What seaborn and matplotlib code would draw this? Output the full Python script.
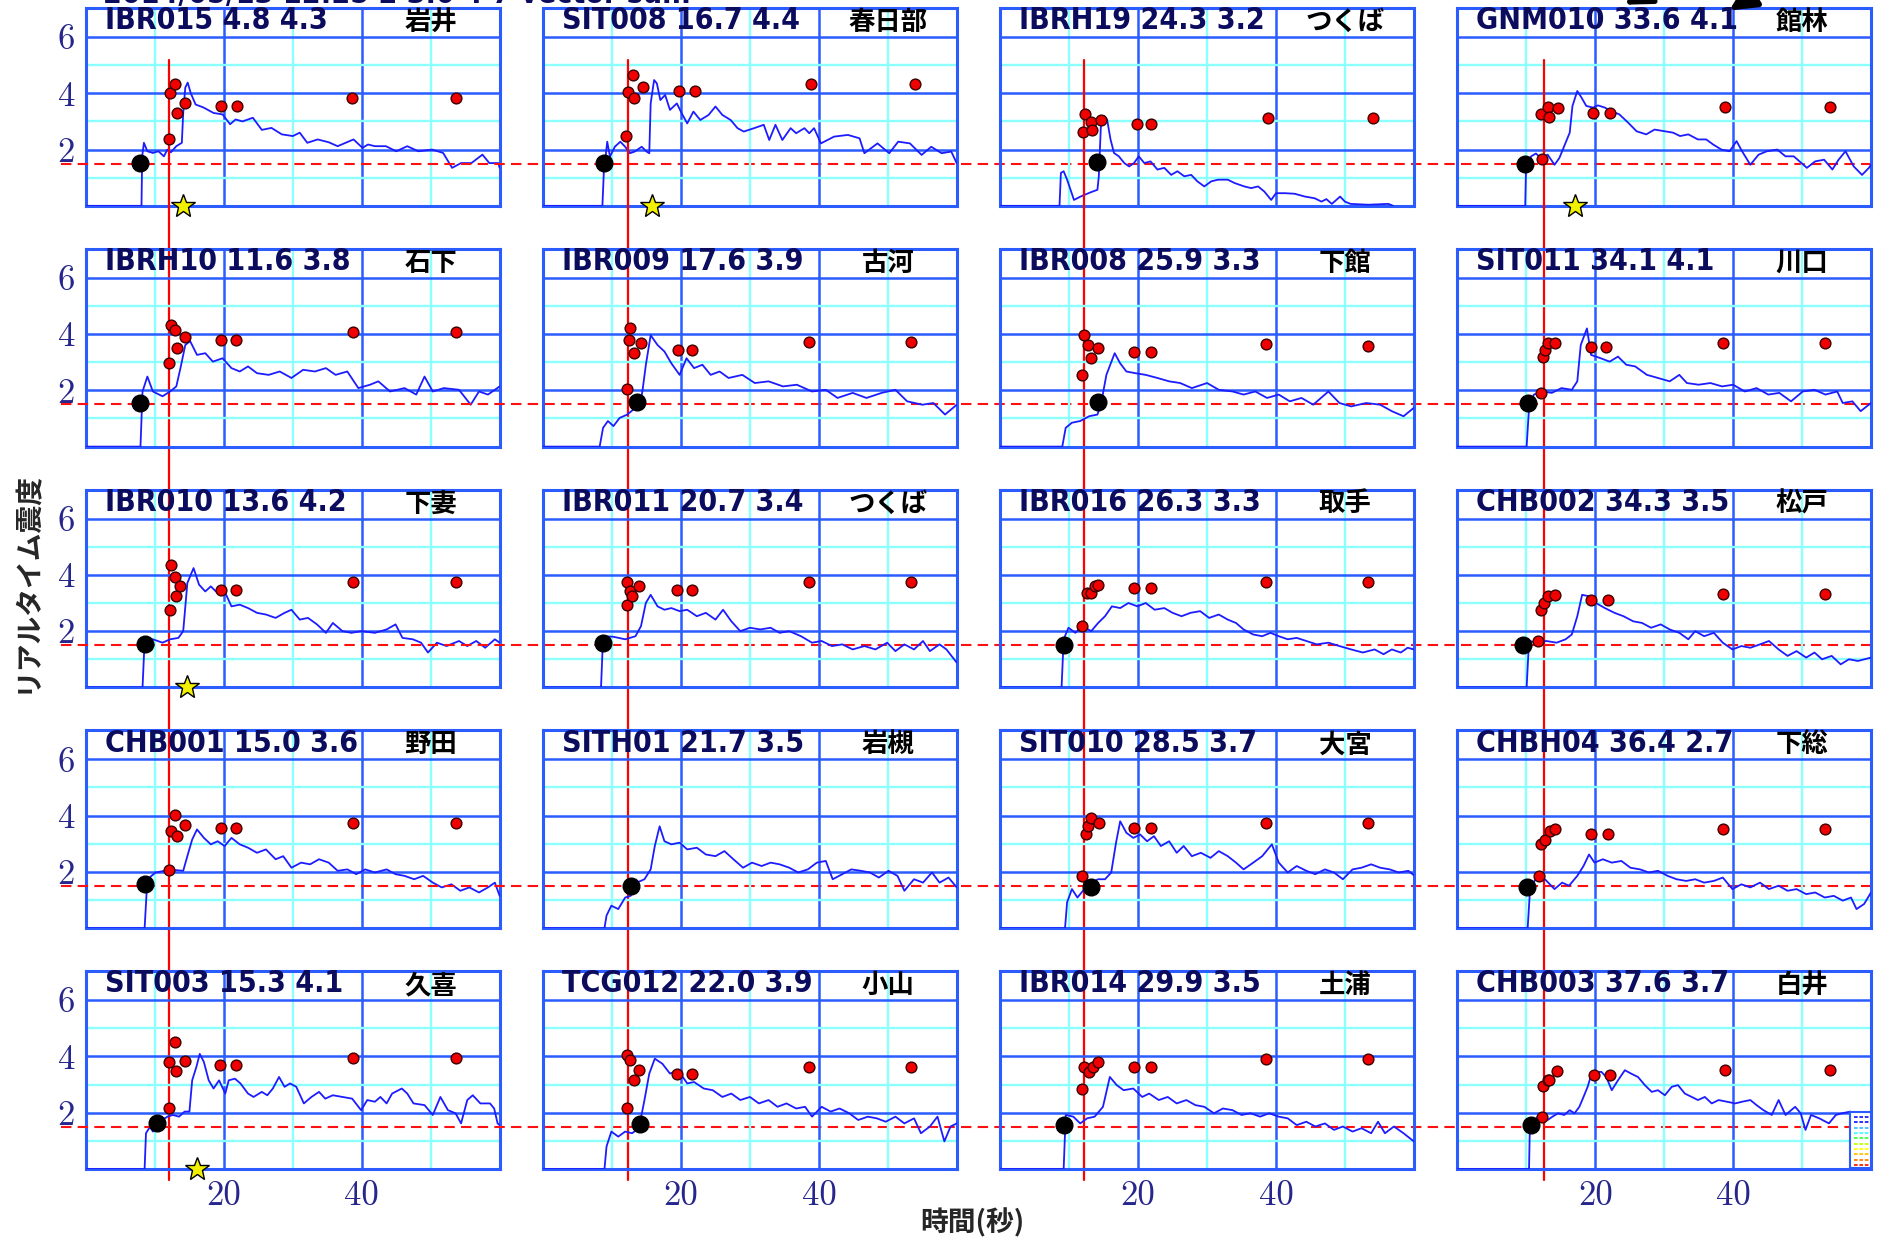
import matplotlib
matplotlib.use("Agg")
import matplotlib.pyplot as plt
from matplotlib import font_manager
from matplotlib.patches import Rectangle, FancyArrowPatch
import pandas as pd
import seaborn as sns

# station header info (row-major order)
codes = ['IBR015', 'SIT008', 'IBRH19', 'GNM010',
         'IBRH10', 'IBR009', 'IBR008', 'SIT011',
         'IBR010', 'IBR011', 'IBR016', 'CHB002',
         'CHB001', 'SITH01', 'SIT010', 'CHBH04',
         'SIT003', 'TCG012', 'IBR014', 'CHB003']
dist = [4.8, 16.7, 24.3, 33.6, 11.6, 17.6, 25.9, 34.1, 13.6, 20.7,
        26.3, 34.3, 15.0, 21.7, 28.5, 36.4, 15.3, 22.0, 29.9, 37.6]
mag = [4.3, 4.4, 3.2, 4.1, 3.8, 3.9, 3.3, 4.1, 4.2, 3.4,
       3.3, 3.5, 3.6, 3.5, 3.7, 2.7, 4.1, 3.9, 3.5, 3.7]
names = ['岩井', '春日部', 'つくば', '館林',
         '石下', '古河', '下館', '川口',
         '下妻', 'つくば', '取手', '松戸',
         '野田', '岩槻', '大宮', '下総',
         '久喜', '小山', '土浦', '白井']

# P arrival (black dot)
p_time = [7.9, 8.9, 14.1, 9.85, 7.9, 13.6, 14.2, 10.2, 8.5, 8.7,
          9.2, 9.5, 8.5, 12.7, 13.2, 10.05, 10.3, 14.1, 9.2, 10.7]
p_level = [1.52, 1.54, 1.55, 1.5, 1.55, 1.6, 1.6, 1.55, 1.53, 1.58,
           1.5, 1.5, 1.58, 1.5, 1.48, 1.45, 1.65, 1.6, 1.56, 1.56]

# yellow stars
star_panel = [0, 1, 3, 8, 16]
star_time = [14.1, 15.8, 17.0, 14.7, 16.1]

# red reference lines
col_line_t = [12.0, 12.3, 12.2, 12.5]
threshold = 1.5

# realtime intensity traces (time s, intensity)
IBR015_trace = [(0, 0), (8.05, 0), (8.15, 1.76), (8.4, 2.24), (8.9, 1.94), (9.7, 1.88), (10.5, 1.94),
                (11.3, 1.76), (11.8, 2.0), (12.3, 1.9), (13.1, 2.12), (13.9, 2.24), (14.1, 3.3), (14.4, 4.2),
                (14.75, 4.38), (15.2, 4.0), (15.9, 3.6), (17.0, 3.5), (18.5, 3.3), (19.8, 3.25), (20.9, 2.9),
                (21.7, 3.07), (22.7, 3.0), (24.2, 3.13), (25.5, 2.7), (26.9, 2.77), (28.4, 2.54), (30.0, 2.48),
                (31.0, 2.6), (32.1, 2.24), (33.6, 2.36), (35.2, 2.26), (36.5, 2.12), (38.8, 2.36), (40.1, 2.06),
                (40.9, 2.18), (41.9, 2.12), (43.5, 2.12), (45.0, 1.94), (46.6, 2.12), (48.2, 1.94), (50.2, 2.0),
                (51.8, 1.88), (53.1, 1.35), (54.4, 1.52), (55.9, 1.52), (57.5, 1.82), (58.5, 1.52), (59.8, 1.52),
                (60, 1.35)]
SIT008_trace = [(0, 0), (8.6, 0), (8.8, 1.16), (9.3, 2.28), (9.7, 1.75), (10.4, 2.1), (11.2, 2.28), (11.9, 2.1),
                (12.6, 1.87), (13.3, 1.93), (14.3, 2.1), (15.0, 1.93), (15.4, 1.87), (15.6, 3.64), (16.1, 4.47),
                (16.5, 4.35), (17.0, 3.76), (17.7, 3.94), (18.4, 3.41), (19.4, 3.64), (20.1, 3.29), (20.9, 2.93),
                (21.8, 3.35), (22.8, 3.05), (24.0, 3.23), (25.0, 3.53), (26.0, 3.23), (27.2, 3.05), (28.2, 2.76),
                (29.1, 2.64), (30.6, 2.76), (32.0, 2.88), (32.8, 2.34), (33.7, 2.88), (34.7, 2.34), (35.9, 2.76),
                (36.7, 2.58), (37.9, 2.76), (38.6, 2.58), (39.3, 2.76), (40.3, 2.22), (42.2, 2.46), (44.2, 2.52),
                (45.9, 2.4), (46.6, 1.87), (48.5, 2.22), (50.2, 1.87), (51.5, 2.28), (53.2, 2.22), (54.9, 1.81),
                (56.3, 2.1), (57.8, 1.87), (59.2, 1.93), (60, 1.51)]
IBRH19_trace = [(0, 0), (8.6, 0), (8.8, 1.17), (9.2, 1.23), (9.7, 0.93), (10.7, 0.21), (11.65, 0.33), (13.1, 0.48),
                (14.1, 0.57), (14.3, 1.05), (14.6, 2.83), (15.1, 3.19), (15.5, 3.07), (16.0, 2.36), (16.5, 1.88),
                (17.2, 1.76), (18.0, 1.52), (18.7, 1.4), (19.4, 1.52), (20.1, 1.76), (20.9, 1.52), (21.8, 1.58),
                (22.8, 1.29), (23.8, 1.35), (24.8, 1.1), (25.7, 1.23), (26.7, 1.05), (27.7, 1.1), (28.6, 0.87),
                (29.6, 0.69), (30.6, 0.87), (31.6, 0.93), (33.0, 0.93), (34.0, 0.81), (35.4, 0.69), (36.4, 0.63),
                (37.4, 0.69), (38.3, 0.51), (39.3, 0.21), (40.0, 0.45), (41.3, 0.45), (42.7, 0.43), (44.2, 0.33),
                (45.6, 0.27), (46.6, 0.15), (47.3, 0.24), (48.1, 0.07), (49.3, 0.33), (50.0, 0.15), (50.8, 0.07),
                (53.4, 0.04), (56.3, 0.07), (57.0, 0)]
GNM010_trace = [(0, 0), (9.85, 0), (9.95, 1.17), (10.7, 1.76), (11.4, 1.86), (12.1, 1.7), (13.1, 1.82), (14.1, 1.46),
                (14.8, 1.7), (15.5, 2.12), (16.3, 2.6), (16.7, 3.55), (17.4, 4.08), (18.0, 3.85), (18.7, 3.55),
                (19.7, 3.49), (20.4, 3.57), (21.4, 3.49), (22.3, 3.37), (23.5, 3.25), (24.8, 2.95), (26.0, 2.65),
                (27.4, 2.54), (28.6, 2.71), (30.1, 2.65), (31.3, 2.6), (32.3, 2.48), (33.5, 2.54), (34.9, 2.36),
                (36.1, 2.36), (37.1, 2.18), (38.3, 2.0), (39.5, 1.94), (40.5, 2.3), (41.3, 1.94), (42.5, 1.46),
                (43.7, 1.82), (44.9, 1.94), (46.4, 2.0), (47.6, 1.76), (48.8, 1.76), (50.7, 1.35), (51.9, 1.58),
                (53.2, 1.64), (54.4, 1.29), (55.3, 1.64), (56.3, 1.94), (57.5, 1.4), (58.7, 1.1), (59.7, 1.35),
                (60, 1.46)]
IBRH10_trace = [(0, 0), (7.9, 0), (8.2, 1.96), (8.9, 2.49), (9.7, 1.96), (11.1, 1.79), (12.2, 1.96), (13.1, 2.14),
                (13.7, 2.79), (14.4, 3.61), (15.1, 3.75), (16.1, 3.26), (17.3, 3.32), (18.4, 3.02), (19.8, 3.14),
                (21.1, 2.79), (22.3, 2.67), (23.5, 2.85), (24.8, 2.61), (26.5, 2.55), (28.1, 2.67), (29.8, 2.44),
                (31.5, 2.73), (33.2, 2.67), (34.8, 2.79), (36.2, 2.55), (37.9, 2.67), (39.5, 2.08), (41.2, 2.2),
                (42.4, 2.32), (44.1, 1.96), (46.2, 2.08), (47.9, 1.85), (49.1, 2.49), (50.3, 1.96), (51.9, 2.08),
                (54.1, 2.02), (55.8, 1.49), (57.0, 1.96), (58.3, 1.85), (60, 2.14)]
IBR009_trace = [(0, 0), (8.2, 0), (8.7, 0.67), (9.4, 0.91), (10.2, 0.73), (11.1, 1.02), (12.2, 1.14), (13.1, 1.32),
                (13.9, 1.38), (14.4, 1.96), (14.9, 2.9), (15.6, 3.96), (16.6, 3.61), (17.6, 3.38), (18.6, 2.96),
                (19.8, 2.55), (20.8, 3.14), (21.9, 2.79), (23.1, 2.91), (24.3, 2.55), (25.6, 2.67), (26.9, 2.44),
                (28.9, 2.55), (30.7, 2.26), (32.7, 2.32), (34.8, 2.14), (36.8, 2.2), (39.0, 1.96), (41.0, 2.02),
                (42.7, 1.73), (44.9, 1.91), (46.9, 1.73), (49.1, 1.91), (51.1, 2.02), (52.8, 1.61), (55.0, 1.49),
                (56.6, 1.55), (58.3, 1.14), (60, 1.49)]
IBR008_trace = [(0, 0), (9.0, 0), (9.5, 0.67), (10.4, 0.85), (11.6, 0.91), (12.9, 1.08), (14.1, 1.14), (14.6, 1.49),
                (15.4, 2.55), (16.6, 3.32), (17.4, 2.96), (18.3, 2.67), (19.6, 2.61), (21.1, 2.55), (22.8, 2.44),
                (24.5, 2.32), (26.1, 2.26), (27.8, 2.08), (30.0, 2.26), (31.7, 2.02), (33.7, 1.96), (35.3, 1.85),
                (37.0, 1.96), (38.7, 1.73), (40.4, 1.85), (42.0, 1.61), (43.7, 1.73), (45.4, 1.49), (47.6, 1.96),
                (49.2, 1.55), (50.9, 1.43), (53.1, 1.55), (55.1, 1.49), (56.8, 1.26), (58.5, 1.08), (60, 1.38)]
SIT011_trace = [(0, 0), (10.05, 0), (10.4, 1.38), (11.1, 1.85), (12.4, 1.96), (13.7, 1.91), (15.1, 2.08), (16.6, 2.02),
                (17.4, 2.32), (17.9, 3.61), (18.8, 4.2), (19.4, 3.26), (20.8, 3.14), (22.1, 3.02), (23.3, 3.2),
                (24.5, 2.91), (25.8, 2.85), (27.5, 2.55), (29.1, 2.44), (30.8, 2.32), (32.2, 2.55), (33.3, 2.26),
                (35.0, 2.2), (36.7, 2.26), (38.4, 2.14), (40.0, 2.2), (41.7, 1.96), (43.4, 2.08), (45.1, 1.85),
                (46.7, 1.91), (48.4, 1.61), (50.1, 1.96), (51.8, 2.02), (53.4, 1.85), (55.1, 1.96), (55.9, 1.55),
                (57.3, 1.61), (58.5, 1.26), (60, 1.55)]
IBR010_trace = [(0, 0), (8.2, 0), (8.5, 1.65), (9.7, 1.71), (11.1, 1.59), (12.2, 1.71), (13.4, 1.76), (14.1, 2.0),
                (14.7, 3.71), (15.6, 4.24), (16.4, 3.65), (17.3, 3.41), (18.1, 3.59), (19.1, 3.35), (20.1, 3.41),
                (21.1, 2.88), (22.3, 2.94), (23.5, 2.82), (24.8, 2.65), (26.1, 2.59), (27.5, 2.47), (28.8, 2.65),
                (29.8, 2.76), (31.0, 2.41), (32.2, 2.47), (33.5, 2.24), (34.8, 1.94), (35.8, 2.29), (37.2, 2.0),
                (38.5, 1.94), (39.9, 2.0), (41.9, 1.94), (43.6, 2.06), (44.9, 2.24), (45.9, 1.76), (47.4, 1.71),
                (48.6, 1.59), (49.6, 1.24), (50.9, 1.59), (52.3, 1.47), (54.1, 1.65), (55.3, 1.47), (56.6, 1.65),
                (57.9, 1.41), (59.3, 1.71), (60, 1.59)]
IBR011_trace = [(0, 0), (8.4, 0), (8.7, 1.82), (10.2, 1.8), (11.9, 1.71), (13.4, 1.82), (14.2, 2.18), (14.9, 3.0),
                (15.6, 3.29), (16.6, 2.88), (17.6, 2.76), (18.6, 2.82), (19.8, 2.71), (20.9, 2.76), (22.3, 2.53),
                (23.6, 2.65), (25.0, 2.41), (26.1, 2.76), (27.3, 2.35), (28.6, 2.0), (30.0, 2.12), (31.5, 2.06),
                (33.0, 2.12), (34.3, 1.94), (35.7, 2.0), (37.4, 1.82), (39.0, 1.59), (40.4, 1.65), (41.9, 1.47),
                (43.4, 1.53), (44.9, 1.35), (46.6, 1.47), (48.2, 1.35), (49.9, 1.59), (51.1, 1.29), (52.4, 1.53),
                (53.8, 1.35), (55.1, 1.65), (56.1, 1.29), (57.5, 1.53), (58.5, 1.35), (60, 0.88)]
IBR016_trace = [(0, 0), (8.9, 0), (9.2, 1.71), (9.9, 2.12), (10.9, 1.94), (11.9, 2.18), (13.2, 2.0), (14.2, 2.29),
                (15.2, 2.53), (16.2, 2.88), (17.4, 2.82), (18.6, 3.0), (19.9, 2.88), (21.1, 3.0), (22.4, 2.76),
                (23.8, 2.82), (25.0, 2.65), (26.3, 2.53), (27.6, 2.65), (29.0, 2.71), (30.3, 2.47), (31.7, 2.59),
                (33.0, 2.41), (34.2, 2.29), (35.3, 2.06), (36.7, 1.88), (38.0, 1.82), (39.2, 1.94), (40.4, 1.82),
                (41.7, 1.71), (43.0, 1.76), (44.4, 1.65), (45.9, 1.53), (47.6, 1.59), (49.2, 1.47), (50.9, 1.35),
                (52.6, 1.24), (54.3, 1.35), (55.6, 1.18), (56.8, 1.35), (58.1, 1.24), (59.1, 1.41), (60, 1.35)]
CHB002_trace = [(0, 0), (10.05, 0), (10.4, 1.65), (11.6, 1.59), (12.9, 1.65), (14.4, 1.59), (15.7, 1.71), (16.6, 1.88),
                (17.4, 2.53), (18.1, 3.29), (19.1, 3.24), (20.1, 3.0), (21.4, 2.82), (22.8, 2.65), (24.1, 2.53),
                (25.5, 2.35), (26.8, 2.29), (28.1, 2.12), (29.5, 2.24), (30.8, 2.06), (32.2, 1.94), (33.5, 1.71),
                (34.5, 2.0), (35.8, 1.82), (37.2, 1.94), (38.5, 1.59), (39.9, 1.35), (41.2, 1.47), (42.5, 1.41),
                (43.9, 1.53), (45.2, 1.65), (46.6, 1.35), (47.9, 1.12), (49.2, 1.29), (50.6, 1.06), (51.8, 1.24),
                (52.9, 1.0), (54.3, 1.12), (55.6, 0.82), (56.8, 1.0), (58.1, 0.94), (60, 1.06)]
CHB001_trace = [(0, 0), (8.5, 0), (8.9, 1.74), (10.1, 1.98), (11.4, 2.04), (12.7, 2.07), (14.1, 2.04), (14.7, 2.56),
                (15.4, 3.15), (16.1, 3.51), (17.1, 3.21), (18.1, 2.98), (19.1, 3.09), (20.1, 2.92), (21.1, 3.21),
                (22.3, 2.98), (23.5, 2.86), (24.8, 2.68), (26.1, 2.8), (27.5, 2.45), (28.6, 2.56), (29.8, 2.15),
                (31.2, 2.33), (32.5, 2.27), (33.8, 2.45), (35.2, 2.33), (36.5, 2.04), (37.9, 2.09), (39.2, 1.92),
                (40.5, 2.09), (41.9, 1.98), (43.6, 2.09), (44.9, 1.92), (46.2, 1.86), (47.6, 1.74), (48.9, 1.86),
                (50.3, 1.62), (51.6, 1.45), (53.0, 1.56), (54.3, 1.33), (55.6, 1.45), (57.0, 1.27), (58.3, 1.45),
                (59.3, 1.62), (60, 1.15)]
SITH01_trace = [(0, 0), (8.9, 0), (9.2, 0.45), (9.9, 0.8), (10.9, 0.68), (11.9, 1.09), (12.7, 1.15), (13.6, 1.62),
                (14.7, 1.74), (15.6, 2.09), (16.2, 2.92), (16.9, 3.62), (17.6, 3.09), (18.6, 2.98), (19.8, 3.04),
                (20.9, 2.8), (22.3, 2.86), (23.6, 2.62), (25.0, 2.56), (26.3, 2.74), (27.6, 2.45), (29.0, 2.15),
                (30.3, 2.33), (31.7, 2.21), (33.0, 2.33), (34.3, 2.27), (35.7, 2.15), (37.0, 1.98), (38.4, 2.09),
                (39.7, 2.33), (41.0, 2.39), (42.0, 1.74), (43.4, 1.92), (44.7, 2.09), (46.1, 2.04), (47.4, 1.98),
                (48.7, 1.8), (50.1, 2.04), (51.4, 1.86), (52.4, 1.33), (53.8, 1.74), (55.1, 1.62), (56.4, 1.98),
                (57.5, 1.62), (58.8, 1.8), (60, 1.45)]
SIT010_trace = [(0, 0), (9.4, 0), (9.7, 0.92), (10.4, 1.39), (11.2, 1.09), (12.2, 1.39), (13.2, 1.62), (14.2, 1.74),
                (15.2, 1.74), (16.1, 1.98), (16.8, 3.04), (17.4, 3.8), (18.3, 3.39), (19.3, 3.21), (20.3, 3.33),
                (21.3, 3.09), (22.3, 3.27), (23.3, 2.92), (24.5, 3.09), (25.6, 2.68), (26.6, 2.92), (27.8, 2.56),
                (29.1, 2.68), (30.5, 2.5), (31.7, 2.74), (33.0, 2.56), (34.2, 2.33), (35.3, 2.09), (36.7, 2.33),
                (38.0, 2.56), (39.4, 2.98), (40.4, 2.33), (41.7, 1.98), (43.0, 2.21), (44.4, 2.04), (45.7, 1.92),
                (47.1, 2.09), (48.4, 1.98), (49.7, 1.74), (51.1, 2.09), (52.4, 2.15), (53.8, 2.27), (55.1, 2.15),
                (56.5, 2.09), (57.8, 1.98), (59.2, 2.04), (60, 1.88)]
CHBH04_trace = [(0, 0), (10.2, 0), (10.55, 1.39), (11.6, 1.86), (12.7, 1.74), (14.1, 1.39), (15.2, 1.62), (16.2, 1.51),
                (17.4, 1.86), (18.3, 2.21), (19.1, 2.62), (19.9, 2.33), (21.1, 2.45), (22.4, 2.33), (23.8, 2.39),
                (25.1, 2.15), (26.5, 2.09), (27.8, 1.98), (29.1, 2.04), (30.5, 1.86), (31.8, 1.74), (33.2, 1.68),
                (34.5, 1.74), (35.8, 1.62), (37.2, 1.68), (38.5, 1.8), (39.9, 1.39), (41.2, 1.56), (42.5, 1.45),
                (43.9, 1.62), (45.2, 1.39), (46.6, 1.51), (47.9, 1.33), (49.2, 1.39), (50.6, 1.21), (51.9, 1.27),
                (53.3, 1.09), (54.6, 1.15), (55.9, 0.98), (57.1, 1.09), (57.9, 0.68), (59.0, 0.86), (60, 1.27)]
SIT003_trace = [(0, 0), (8.5, 0), (8.7, 1.27), (9.3, 1.51), (9.7, 1.33), (10.1, 1.56), (10.7, 1.68), (11.8, 1.86),
                (12.6, 1.92), (13.5, 1.86), (14.3, 2.04), (15.0, 2.04), (15.4, 3.15), (16.0, 3.62), (16.5, 4.09),
                (17.1, 3.8), (17.8, 3.15), (18.5, 2.86), (19.3, 3.15), (20.2, 2.68), (20.7, 3.15), (21.6, 3.21),
                (22.4, 3.04), (23.5, 2.68), (24.3, 2.56), (25.5, 2.74), (26.3, 2.62), (27.1, 2.86), (28.0, 3.27),
                (28.8, 2.92), (29.6, 3.04), (30.5, 2.92), (31.6, 2.33), (32.7, 2.56), (33.8, 2.74), (34.7, 2.5),
                (35.8, 2.62), (37.2, 2.56), (38.6, 2.5), (39.9, 2.09), (40.8, 2.45), (41.9, 2.39), (42.7, 2.56),
                (43.6, 2.33), (44.4, 2.68), (45.8, 2.86), (46.6, 2.68), (47.5, 2.33), (49.1, 2.27), (50.3, 1.92),
                (51.4, 2.56), (52.5, 2.09), (53.6, 1.98), (54.4, 1.62), (55.3, 2.45), (56.1, 2.62), (57.2, 2.33),
                (58.6, 2.33), (59.2, 2.15), (59.7, 1.62), (60, 1.56)]
TCG012_trace = [(0, 0), (8.9, 0), (9.2, 0.8), (9.9, 1.33), (10.9, 1.15), (11.9, 1.33), (12.9, 1.27), (13.9, 1.45),
                (14.7, 2.45), (15.4, 3.39), (16.2, 3.92), (17.3, 3.74), (18.4, 3.39), (19.6, 3.51), (20.9, 3.04),
                (21.9, 3.09), (23.3, 2.86), (24.6, 2.8), (26.0, 2.56), (27.3, 2.68), (28.6, 2.45), (30.0, 2.56),
                (31.3, 2.33), (32.7, 2.45), (34.0, 2.21), (35.3, 2.33), (36.7, 2.15), (38.0, 2.21), (39.0, 1.86),
                (40.4, 2.21), (41.7, 2.04), (43.0, 2.15), (44.4, 1.98), (45.7, 1.74), (47.1, 1.86), (48.4, 1.8),
                (49.7, 1.68), (51.1, 1.86), (52.4, 1.62), (53.8, 1.8), (54.8, 1.27), (56.1, 1.51), (57.2, 1.86),
                (58.2, 0.98), (59.1, 1.51), (60, 1.62)]
IBR014_trace = [(0, 0), (9.2, 0), (9.5, 1.92), (10.6, 1.86), (11.6, 1.62), (12.6, 1.8), (13.7, 1.86), (14.9, 2.21),
                (15.9, 3.27), (16.9, 2.98), (17.9, 2.8), (19.3, 2.86), (20.6, 2.56), (21.6, 2.68), (23.0, 2.45),
                (24.3, 2.56), (25.6, 2.33), (27.0, 2.45), (28.3, 2.27), (29.6, 2.21), (31.0, 1.98), (32.3, 2.15),
                (33.7, 2.09), (35.0, 1.92), (36.3, 1.98), (37.7, 1.86), (39.0, 1.98), (40.4, 1.86), (41.7, 1.8),
                (43.0, 1.56), (44.4, 1.68), (45.7, 1.51), (47.1, 1.62), (48.4, 1.39), (49.7, 1.51), (51.1, 1.33),
                (52.4, 1.45), (53.8, 1.27), (54.8, 1.68), (55.8, 1.27), (57.1, 1.51), (58.5, 1.27), (60, 0.98)]
CHB003_trace = [(0, 0), (10.4, 0), (10.5, 1.27), (10.9, 1.62), (11.65, 1.86), (12.4, 1.92), (13.1, 1.74), (13.8, 1.86),
                (14.6, 1.98), (15.5, 1.92), (16.3, 2.09), (17.0, 1.98), (17.7, 2.21), (18.3, 2.56), (18.9, 2.92),
                (19.4, 3.33), (19.9, 3.45), (20.9, 3.45), (21.6, 3.27), (22.4, 2.8), (23.3, 3.15), (24.3, 3.51),
                (25.2, 3.39), (26.2, 3.27), (27.2, 2.98), (28.2, 2.74), (29.1, 2.8), (30.1, 2.62), (31.1, 2.92),
                (32.0, 2.98), (33.0, 2.68), (34.0, 2.56), (34.9, 2.45), (35.9, 2.56), (36.9, 2.33), (37.9, 2.45),
                (39.1, 2.39), (40.3, 2.33), (41.3, 2.39), (42.5, 2.45), (43.4, 2.27), (44.4, 2.09), (45.6, 1.92),
                (46.6, 2.45), (47.6, 1.92), (49.0, 2.21), (49.8, 1.98), (50.5, 1.39), (51.3, 1.92), (52.5, 1.8),
                (53.9, 1.62), (54.9, 1.92), (55.8, 1.98), (57.0, 2.04)]

# estimated intensities (red dots)
IBR015_est = [(12.1, 2.38), (12.2, 4.0), (12.9, 4.32), (13.2, 3.31), (14.3, 3.64), (19.6, 3.55), (21.9, 3.55), (38.6, 3.82), (53.7, 3.82)]
SIT008_est = [(12.0, 2.49), (12.3, 4.06), (13.1, 4.65), (13.25, 3.82), (14.5, 4.21), (19.7, 4.09), (22.0, 4.09), (38.8, 4.32), (53.9, 4.32)]
IBRH19_est = [(12.0, 2.62), (12.3, 3.25), (13.1, 2.98), (13.35, 2.69), (14.6, 3.05), (19.8, 2.92), (21.9, 2.92), (38.8, 3.13), (54.0, 3.13)]
GNM010_est = [(12.3, 1.67), (12.1, 3.25), (13.1, 3.52), (13.35, 3.17), (14.6, 3.49), (19.7, 3.31), (22.1, 3.31), (38.8, 3.51), (54.0, 3.51)]
IBRH10_est = [(12.1, 2.96), (12.4, 4.32), (12.9, 4.14), (13.2, 3.49), (14.4, 3.9), (19.6, 3.79), (21.8, 3.79), (38.7, 4.08), (53.6, 4.08)]
IBR009_est = [(12.1, 2.06), (12.4, 3.79), (12.6, 4.2), (13.2, 3.32), (14.2, 3.67), (19.6, 3.44), (21.6, 3.44), (38.5, 3.73), (53.4, 3.73)]
IBR008_est = [(11.9, 2.55), (12.1, 3.96), (12.7, 3.61), (13.2, 3.14), (14.2, 3.49), (19.4, 3.38), (21.8, 3.38), (38.5, 3.64), (53.4, 3.58)]
SIT011_est = [(12.1, 1.9), (12.4, 3.2), (12.7, 3.44), (13.1, 3.67), (14.2, 3.67), (19.4, 3.55), (21.6, 3.55), (38.5, 3.7), (53.3, 3.7)]
IBR010_est = [(12.2, 2.76), (12.4, 4.35), (12.9, 3.94), (13.1, 3.26), (13.7, 3.61), (19.6, 3.47), (21.8, 3.47), (38.7, 3.73), (53.6, 3.73)]
IBR011_est = [(12.2, 2.94), (12.2, 3.73), (12.6, 3.41), (12.9, 3.24), (13.9, 3.59), (19.4, 3.47), (21.6, 3.47), (38.5, 3.73), (53.4, 3.73)]
IBR016_est = [(11.9, 2.18), (12.6, 3.35), (13.2, 3.35), (13.7, 3.59), (14.2, 3.65), (19.4, 3.53), (21.8, 3.53), (38.5, 3.73), (53.4, 3.73)]
CHB002_est = [(11.7, 1.65), (12.1, 2.76), (12.6, 3.0), (13.1, 3.24), (14.1, 3.29), (19.4, 3.12), (21.8, 3.12), (38.5, 3.33), (53.3, 3.33)]
CHB001_est = [(12.1, 2.07), (12.4, 3.45), (12.9, 4.04), (13.2, 3.27), (14.4, 3.68), (19.6, 3.56), (21.8, 3.56), (38.7, 3.74), (53.6, 3.74)]
SITH01_est = []
SIT010_est = [(11.9, 1.86), (12.4, 3.33), (12.7, 3.62), (13.2, 3.92), (14.4, 3.74), (19.4, 3.56), (21.8, 3.56), (38.5, 3.74), (53.4, 3.74)]
CHBH04_est = [(11.9, 1.86), (12.1, 2.98), (12.7, 3.15), (13.4, 3.45), (14.2, 3.51), (19.4, 3.33), (21.8, 3.33), (38.5, 3.51), (53.3, 3.51)]
SIT003_est = [(12.0, 2.15), (12.1, 3.8), (12.9, 4.53), (13.1, 3.47), (14.3, 3.82), (19.5, 3.68), (21.8, 3.68), (38.7, 3.94), (53.7, 3.94)]
TCG012_est = [(12.1, 2.15), (12.1, 4.04), (12.6, 3.86), (13.2, 3.15), (13.9, 3.51), (19.4, 3.39), (21.6, 3.39), (38.5, 3.62), (53.4, 3.62)]
IBR014_est = [(11.9, 2.86), (12.2, 3.62), (12.9, 3.45), (13.4, 3.62), (14.2, 3.8), (19.4, 3.62), (21.8, 3.62), (38.5, 3.92), (53.4, 3.92)]
CHB003_est = [(12.3, 1.84), (12.4, 2.95), (13.1, 3.18), (13.35, 3.15), (14.5, 3.48), (19.8, 3.33), (22.1, 3.33), (38.8, 3.51), (54.0, 3.51)]

traces = [IBR015_trace, SIT008_trace, IBRH19_trace, GNM010_trace,
          IBRH10_trace, IBR009_trace, IBR008_trace, SIT011_trace,
          IBR010_trace, IBR011_trace, IBR016_trace, CHB002_trace,
          CHB001_trace, SITH01_trace, SIT010_trace, CHBH04_trace,
          SIT003_trace, TCG012_trace, IBR014_trace, CHB003_trace]
estimates = [IBR015_est, SIT008_est, IBRH19_est, GNM010_est,
             IBRH10_est, IBR009_est, IBR008_est, SIT011_est,
             IBR010_est, IBR011_est, IBR016_est, CHB002_est,
             CHB001_est, SITH01_est, SIT010_est, CHBH04_est,
             SIT003_est, TCG012_est, IBR014_est, CHB003_est]

BLUE = '#2a5cff'
CYAN = '#8cffff'
NAVY = '#0c0c5e'
TICKC = '#26268c'
JP_FONT = ['Noto Sans CJK JP', 'DejaVu Sans']

# narrowest bold face available for the station header
head_prop = None
for f in font_manager.fontManager.ttflist:
    low = f.fname.lower()
    if ('narrow' in low or 'condensed' in low) and 'bold' in low and 'italic' not in low \
            and 'oblique' not in low:
        head_prop = font_manager.FontProperties(fname=f.fname, size=25)
        break
if head_prop is None:
    if any(f.name == 'Roboto' for f in font_manager.fontManager.ttflist):
        head_prop = font_manager.FontProperties(family='Roboto', weight='bold', size=25)
    else:
        head_prop = font_manager.FontProperties(family='DejaVu Sans', weight='bold', size=25)

sns.set_style("white")
plt.rcParams['font.family'] = JP_FONT

W, H = 1877, 1239
fig, axes = plt.subplots(5, 4, figsize=(W / 100, H / 100), dpi=100)
fig.subplots_adjust(left=86 / W, right=1871 / W, top=1 - 8 / H, bottom=1 - 1169 / H,
                    wspace=0.105, hspace=0.217)

# fit header size to the width seen in the reference (about 223 px)
probe = fig.text(0, 0, 'IBR015 4.8 4.3', fontproperties=head_prop)
bb = probe.get_window_extent(fig.canvas.get_renderer())
probe.remove()
head_size = min(27, 25 * 223 / bb.width)
head_prop.set_size(head_size)

for i, ax in enumerate(axes.flat):
    r, c = divmod(i, 4)
    ax.set_facecolor('none')
    ax.set_xlim(0, 60)
    ax.set_ylim(0, 7.03)
    ax.set_xticks([20, 40])
    ax.set_xticks([10, 30, 50], minor=True)
    ax.set_yticks([2, 4, 6])
    ax.set_yticks([1, 3, 5], minor=True)
    ax.grid(which='minor', color=CYAN, lw=1.7, zorder=0)
    ax.grid(which='major', color=BLUE, lw=1.8, zorder=0)
    ax.set_axisbelow(True)
    for sp in ax.spines.values():
        sp.set_color(BLUE)
        sp.set_linewidth(2.2)
    ax.tick_params(which='both', length=0, labelleft=(c == 0), labelbottom=(r == 4),
                   labelsize=25, labelcolor=TICKC, pad=8)
    for lbl in ax.get_xticklabels() + ax.get_yticklabels():
        lbl.set_fontfamily('cmr10')

    df = pd.DataFrame(traces[i], columns=['t', 'v'])
    sns.lineplot(data=df, x='t', y='v', ax=ax, color='#1c1cff', lw=1.3,
                 estimator=None, sort=False, zorder=3)
    if estimates[i]:
        de = pd.DataFrame(estimates[i], columns=['t', 'v'])
        sns.scatterplot(data=de, x='t', y='v', ax=ax, s=60, color='#f00000',
                        edgecolor='#3a0000', linewidth=1.0, zorder=6)
    ax.plot(p_time[i], p_level[i], 'o', color='black', ms=12, zorder=7)
    ax.set_xlabel('')
    ax.set_ylabel('')

    ax.text(2.7, 6.06, f"{codes[i]} {dist[i]:.1f} {mag[i]:.1f}", ha='left', va='bottom',
            fontproperties=head_prop, color=NAVY)
    ax.text(50, 6.52, names[i], ha='center', va='center', fontsize=19,
            fontweight='bold', color='black', family=JP_FONT)

for k, t in zip(star_panel, star_time):
    axes.flat[k].plot(t, 0, marker='*', ms=18, mfc='#f0f000', mec='black', mew=1.0,
                      clip_on=False, zorder=8)

# horizontal dashed threshold line per row, across the whole figure
for r in range(5):
    ax = axes[r, 0]
    inv = ax.transData.inverted()
    x0 = inv.transform(fig.transFigure.transform((61 / W, 0)))[0]
    x1 = inv.transform(fig.transFigure.transform((1.0, 0)))[0]
    ax.plot([x0, x1], [threshold, threshold], color='#ff1010', lw=1.5,
            ls=(0, (5, 3)), clip_on=False, zorder=4)

# vertical red line per column, through all rows
for c in range(4):
    top_ax, bot_ax = axes[0, c], axes[4, c]
    y_bot = top_ax.transData.inverted().transform(
        bot_ax.transData.transform((col_line_t[c], -0.4)))[1]
    top_ax.plot([col_line_t[c], col_line_t[c]], [5.2, y_bot], color='#ff0000',
                lw=1.6, clip_on=False, zorder=4)

# small colour scale box in the last panel
ax = axes[4, 3]
ax.add_patch(Rectangle((57.0, 0.02), 3.0, 2.0, facecolor='white', edgecolor=BLUE,
                       lw=1.5, zorder=8, clip_on=False))
scale_colors = ['#2020ff', '#2020ff', '#40c0ff', '#40ffff', '#40ff40', '#c0ff00',
                '#ffff00', '#ffc000', '#ff8000', '#ff2000']
for j, col in enumerate(scale_colors):
    yy = 1.85 - j * 0.19
    ax.plot([57.5, 59.7], [yy, yy], color=col, lw=1.3, ls=(0, (2, 1)), zorder=9)

fig.text(0.0141, 0.530, 'リアルタイム震度', rotation=90, ha='center', va='center',
         fontsize=20, fontweight='bold', family=JP_FONT)
fig.text(0.518, 0.013, '時間(秒)', ha='center', va='center',
         fontsize=20, fontweight='bold', family=JP_FONT)

# title line cut off at the top edge
fig.text(103 / W, 1 - 3 / H, '2014/05/13 12:25 2 3.0 4 7 vector sum', ha='left',
         va='baseline', fontproperties=head_prop, color=NAVY)

for tail, head in [((1690, H + 30), (1622, H - 6)), ((1800, H + 35), (1727, H - 12))]:
    fig.add_artist(FancyArrowPatch(tail, head, transform=None, arrowstyle='-|>',
                                   mutation_scale=40, lw=4, color='black'))

fig.savefig('out.png', dpi=100)
